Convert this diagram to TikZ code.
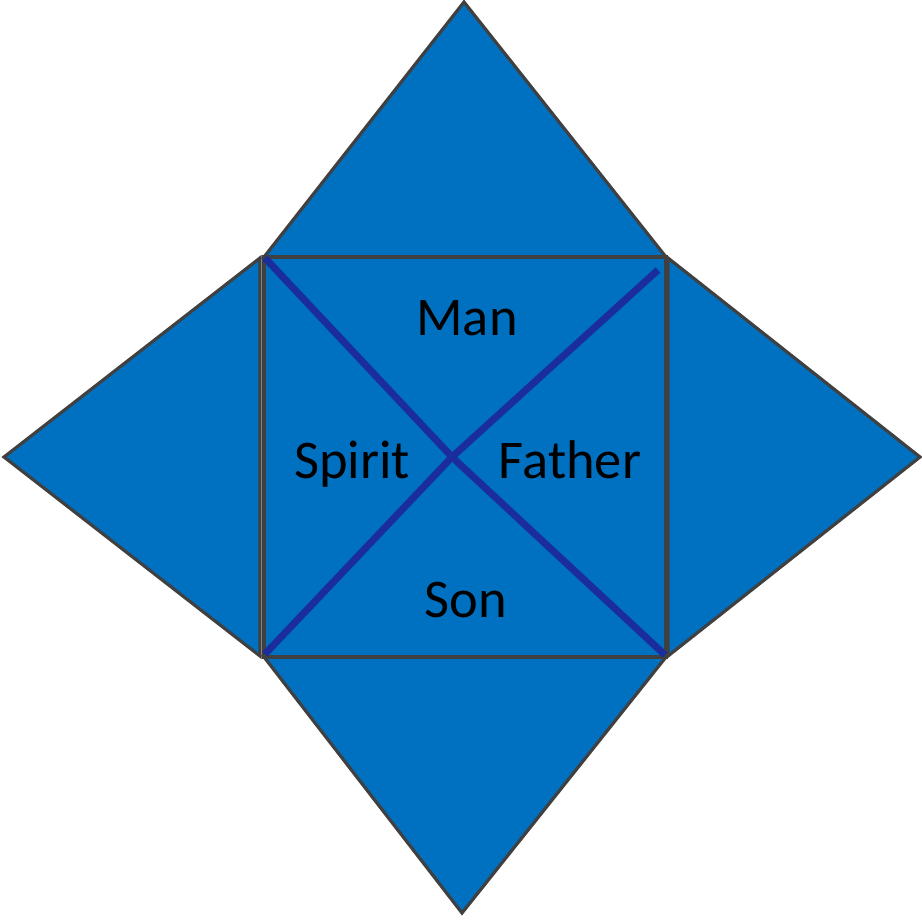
\documentclass[tikz,border=0pt]{standalone}
\usepackage{fontspec}
\setmainfont{Carlito}
\usepackage{xcolor}
\definecolor{facefill}{HTML}{0070C0}
\definecolor{faceedge}{HTML}{404040}
\definecolor{crossline}{HTML}{1B2C9C}

\begin{document}
\begin{tikzpicture}[
    x=0.02cm, y=-0.02cm,
    % Stili comuni per le facce, le diagonali e le etichette.
    face/.style={fill=facefill, draw=faceedge, line width=1.8pt, line join=miter},
    diag/.style={draw=crossline, line width=4pt},
    every node/.style={font=\fontsize{31}{36}\selectfont, text=black, inner sep=0pt},
    word/.style={anchor=base}
]
\useasboundingbox (0,0) rectangle (922,922);

% Vertici del quadrato centrale e centro delle diagonali.
\coordinate (nw) at (264,257);
\coordinate (ne) at (666,257);
\coordinate (sw) at (264,657);
\coordinate (se) at (666,657);
\coordinate (mid) at (452,457);

% Triangoli esterni.
\draw[face] (nw) -- (464,2) -- (ne) -- cycle;
\draw[face] (sw) -- (462,913) -- (se) -- cycle;
\draw[face] (260,258) -- (4,457) -- (260,656) -- cycle;
\draw[face] (668,258) -- (920,457) -- (668,656) -- cycle;

% Quadrato centrale.
\draw[face] (nw) rectangle (se);

% Diagonali.
\draw[diag] ([shift={(1,1)}]nw) -- (mid) -- ([shift={(-1,-2)}]se);
\draw[diag] ([shift={(1,-3)}]sw) -- (mid) -- (658,270);

% Etichette.
\node[word] (man)    at (467,335) {Man};
\node[word] (spirit) at (352,478) {Spirit};
\node[word] (father) at (570,478) {Father};
\node[word] (son)    at (466,617) {Son};
\end{tikzpicture}
\end{document}
